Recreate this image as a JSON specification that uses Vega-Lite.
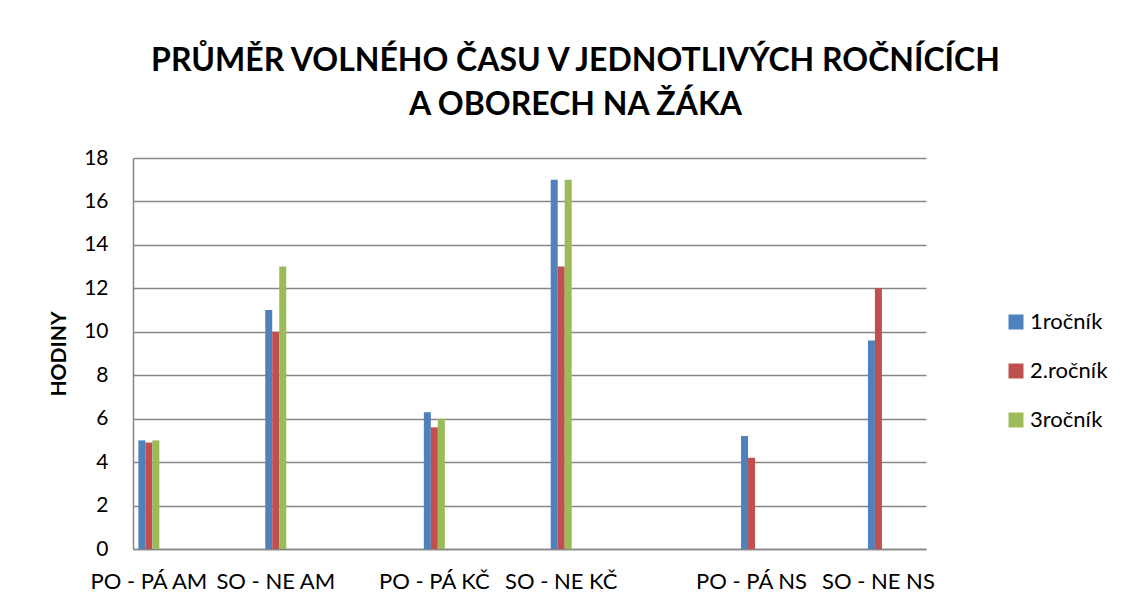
{
  "$schema": "https://vega.github.io/schema/vega-lite/v6.json",
  "autosize": {"type": "none"},
  "width": 793,
  "height": 391,
  "padding": {"left": 133, "top": 158, "right": 204, "bottom": 60},
  "background": "white",
  "title": {
    "text": ["PRŮMĚR VOLNÉHO ČASU V JEDNOTLIVÝCH ROČNÍCÍCH", "A OBORECH NA ŽÁKA"],
    "font": "Lato",
    "fontSize": 32,
    "fontWeight": "bold",
    "color": "#000000",
    "anchor": "middle",
    "dx": 46,
    "offset": 25,
    "lineHeight": 44
  },
  "data": {
    "values": [
      {"cat": "PO - PÁ AM", "series": "1ročník", "hours": 5},
      {"cat": "PO - PÁ AM", "series": "2.ročník", "hours": 4.9},
      {"cat": "PO - PÁ AM", "series": "3ročník", "hours": 5},
      {"cat": "SO - NE AM", "series": "1ročník", "hours": 11},
      {"cat": "SO - NE AM", "series": "2.ročník", "hours": 10},
      {"cat": "SO - NE AM", "series": "3ročník", "hours": 13},
      {"cat": "PO - PÁ KČ", "series": "1ročník", "hours": 6.3},
      {"cat": "PO - PÁ KČ", "series": "2.ročník", "hours": 5.6},
      {"cat": "PO - PÁ KČ", "series": "3ročník", "hours": 6},
      {"cat": "SO - NE KČ", "series": "1ročník", "hours": 17},
      {"cat": "SO - NE KČ", "series": "2.ročník", "hours": 13},
      {"cat": "SO - NE KČ", "series": "3ročník", "hours": 17},
      {"cat": "PO - PÁ NS", "series": "1ročník", "hours": 5.2},
      {"cat": "PO - PÁ NS", "series": "2.ročník", "hours": 4.2},
      {"cat": "SO - NE NS", "series": "1ročník", "hours": 9.6},
      {"cat": "SO - NE NS", "series": "2.ročník", "hours": 12}
    ]
  },
  "mark": {"type": "bar"},
  "encoding": {
    "x": {
      "field": "cat",
      "type": "nominal",
      "scale": {
        "domain": ["PO - PÁ AM", "_1", "_2", "_3", "SO - NE AM", "_4", "_5", "_6", "_7", "PO - PÁ KČ", "_8", "_9", "_10", "SO - NE KČ", "_11", "_12", "_13", "_14", "_15", "PO - PÁ NS", "_16", "_17", "_18", "SO - NE NS", "_19"],
        "paddingInner": 0,
        "paddingOuter": 0
      },
      "axis": {
        "title": null,
        "labelAngle": 0,
        "labelExpr": "indexof(datum.value, '_') == 0 ? '' : datum.value",
        "labelFont": "Lato",
        "labelFontSize": 22,
        "labelColor": "#000000",
        "labelPadding": 22,
        "labelOverlap": false,
        "ticks": false,
        "domainColor": "#868686",
        "domainWidth": 1.5,
        "grid": false
      }
    },
    "xOffset": {
      "field": "series",
      "type": "nominal",
      "scale": {"domain": ["1ročník", "2.ročník", "3ročník"], "paddingInner": 0, "paddingOuter": 0.766}
    },
    "y": {
      "field": "hours",
      "type": "quantitative",
      "scale": {"domain": [0, 18]},
      "axis": {
        "title": "HODINY",
        "titleFont": "Lato",
        "titleFontSize": 21,
        "titleFontWeight": "bold",
        "titleColor": "#000000",
        "titlePadding": 14,
        "values": [0, 2, 4, 6, 8, 10, 12, 14, 16, 18],
        "labelFont": "Lato",
        "labelFontSize": 21,
        "labelColor": "#000000",
        "labelPadding": 25,
        "ticks": false,
        "domainColor": "#868686",
        "domainWidth": 1.5,
        "grid": true,
        "gridColor": "#868686",
        "gridWidth": 1.5
      }
    },
    "color": {
      "field": "series",
      "type": "nominal",
      "scale": {"domain": ["1ročník", "2.ročník", "3ročník"], "range": ["#4F81BD", "#C0504D", "#9BBB59"]},
      "legend": {
        "title": null,
        "orient": "none",
        "legendX": 872,
        "legendY": 153,
        "symbolType": "square",
        "symbolSize": 225,
        "symbolStrokeWidth": 0,
        "labelFont": "Lato",
        "labelFontSize": 22,
        "labelColor": "#000000",
        "labelOffset": 3,
        "rowPadding": 27
      }
    }
  },
  "config": {"view": {"stroke": null}}
}
